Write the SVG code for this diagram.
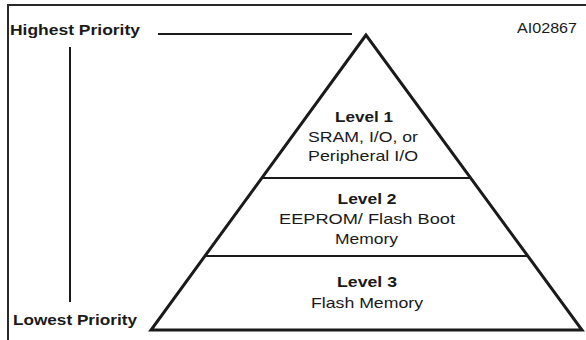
<svg xmlns="http://www.w3.org/2000/svg" width="586" height="340" viewBox="0 0 586 340">
<style>
.frame{fill:none;stroke:#2a2a2a;stroke-width:2}
.tri{fill:#ffffff;stroke:#1a1a1a;stroke-width:3;stroke-linejoin:miter}
.div{stroke:#1a1a1a;stroke-width:2}
.ln{stroke:#1a1a1a;stroke-width:2;fill:none}
.b{font-family:"Liberation Sans",Arial,sans-serif;font-weight:bold;font-size:15px;fill:#1a1a1a}
.r{font-family:"Liberation Sans",Arial,sans-serif;font-size:15px;fill:#1a1a1a}
.c{text-anchor:middle}
</style>
<rect width="586" height="340" fill="#ffffff"/>
<path class="frame" d="M8,340 V5 H586"/>
<g id="pyramid">
<polygon class="tri" points="366,35 151,330 582,330"/>
</g>
<g id="level1">
<text class="b c" x="364" y="122" textLength="58" lengthAdjust="spacingAndGlyphs">Level 1</text>
<text class="r c" x="363" y="142" textLength="110" lengthAdjust="spacingAndGlyphs">SRAM, I/O, or</text>
<text class="r c" x="363" y="161" textLength="110" lengthAdjust="spacingAndGlyphs">Peripheral I/O</text>
</g>
<g id="level2">
<line class="div" x1="262" y1="178" x2="470" y2="178"/>
<text class="b c" x="367" y="204" textLength="59" lengthAdjust="spacingAndGlyphs">Level 2</text>
<text class="r c" x="367" y="224" textLength="176" lengthAdjust="spacingAndGlyphs">EEPROM/ Flash Boot</text>
<text class="r c" x="366.5" y="244" textLength="63" lengthAdjust="spacingAndGlyphs">Memory</text>
</g>
<g id="level3">
<line class="div" x1="205" y1="256" x2="528" y2="256"/>
<text class="b c" x="367" y="287" textLength="60" lengthAdjust="spacingAndGlyphs">Level 3</text>
<text class="r c" x="367" y="308" textLength="112" lengthAdjust="spacingAndGlyphs">Flash Memory</text>
</g>
<g id="highest">
<text class="b" x="10" y="35" textLength="130" lengthAdjust="spacingAndGlyphs">Highest Priority</text>
</g>
<g id="lowest">
<text class="b" x="13" y="325" textLength="124" lengthAdjust="spacingAndGlyphs">Lowest Priority</text>
</g>
<g id="figid">
<text class="r" x="517" y="33" textLength="60" lengthAdjust="spacingAndGlyphs">AI02867</text>
</g>
<g id="connectors">
<line class="ln" x1="158" y1="34" x2="352" y2="34"/>
<line class="ln" x1="70" y1="47" x2="70" y2="302"/>
</g>
</svg>
